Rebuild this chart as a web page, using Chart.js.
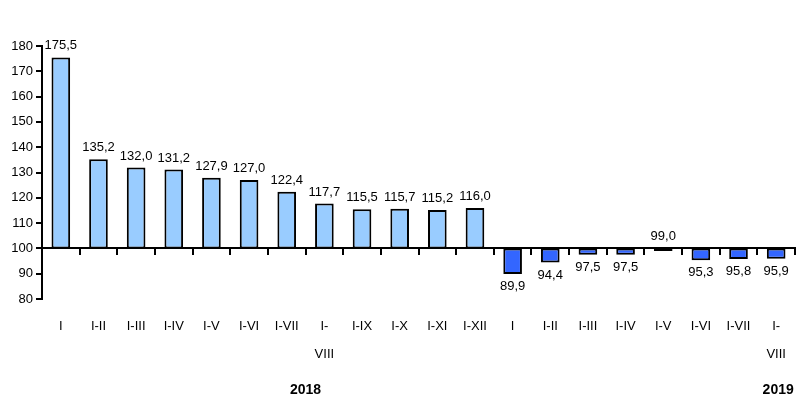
<!DOCTYPE html>
<html>
<head>
<meta charset="utf-8">
<script src="https://cdn.jsdelivr.net/npm/chart.js@4"></script>
<style>
  body { margin: 0; background: #fff; }
  #wrap { width: 807px; height: 420px; }
</style>
</head>
<body>
<div id="wrap"><canvas id="grafico" width="807" height="420"></canvas></div>
<script>
// periodos acumulados 2018 y 2019
const etiquetas = ['I', 'I-II', 'I-III', 'I-IV', 'I-V', 'I-VI', 'I-VII', ['I-', 'VIII'], 'I-IX', 'I-X', 'I-XI', 'I-XII',
                   'I', 'I-II', 'I-III', 'I-IV', 'I-V', 'I-VI', 'I-VII', ['I-', 'VIII']];
const valores2018 = [175.5, 135.2, 132.0, 131.2, 127.9, 127.0, 122.4, 117.7, 115.5, 115.7, 115.2, 116.0];
const valores2019 = [89.9, 94.4, 97.5, 97.5, 99.0, 95.3, 95.8, 95.9];
const anios = ['2018', '2019'];
const base = 100;

const valores = valores2018.concat(valores2019);
const colores = valores.map((v, i) => i < valores2018.length ? '#99CCFF' : '#3366FF');

const fuente = "'Liberation Sans', Arial, sans-serif";

// etiquetas de valor y años
const textos = {
  id: 'textos',
  afterDatasetsDraw(chart) {
    const ctx = chart.ctx;
    const meta = chart.getDatasetMeta(0);
    const x = chart.scales.x;
    const y = chart.scales.y;
    ctx.save();
    ctx.fillStyle = '#000';
    ctx.font = '13px ' + fuente;
    ctx.textAlign = 'center';
    meta.data.forEach((bar, i) => {
      const v = valores[i];
      const txt = v.toFixed(1).replace('.', ',');
      const yEnd = y.getPixelForValue(v);
      if (v >= 99) {
        ctx.textBaseline = 'bottom';
        ctx.fillText(txt, bar.x, Math.min(yEnd, y.getPixelForValue(base)) - 5);
      } else {
        ctx.textBaseline = 'top';
        ctx.fillText(txt, bar.x, yEnd + 6);
      }
    });
    ctx.font = 'bold 14px ' + fuente;
    ctx.textBaseline = 'middle';
    const x2018 = (x.getPixelForValue(6) + x.getPixelForValue(7)) / 2;
    const x2019 = x.getPixelForValue(19);
    ctx.fillText(anios[0], x2018, 390);
    ctx.fillText(anios[1], x2019 + 2, 390);
    ctx.restore();
  }
};

const ctx = document.getElementById('grafico').getContext('2d');

const myBarChart = new Chart(ctx, {
  type: 'bar',
  data: {
    labels: etiquetas,
    datasets: [{
      data: valores.map(v => [base, v]),
      backgroundColor: colores,
      borderColor: '#000',
      borderWidth: 2,
      borderSkipped: false,
      barPercentage: 0.55,
      categoryPercentage: 0.9
    }]
  },
  options: {
    responsive: false,
    animation: false,
    layout: { padding: { top: 46, right: 12, bottom: 0, left: 0 } },
    plugins: {
      legend: { display: false },
      tooltip: { enabled: false }
    },
    scales: {
      x: {
        position: 'bottom',
        border: { display: false },
        grid: { display: false },
        ticks: {
          color: '#000',
          font: { family: fuente, size: 13, lineHeight: 2.15 },
          maxRotation: 0,
          autoSkip: false,
          padding: 5
        },
        afterFit(scale) { scale.height = 121; }
      },
      x2: {
        position: { y: base },
        type: 'category',
        labels: etiquetas,
        offset: true,
        border: { display: true, color: '#000', width: 2 },
        grid: { display: true, drawOnChartArea: false, offset: true, color: '#000', lineWidth: 2, tickLength: 6 },
        ticks: { display: false }
      },
      y: {
        min: 80,
        max: 180,
        border: { display: true, color: '#000', width: 2 },
        grid: { drawOnChartArea: false, color: '#000', lineWidth: 2, tickLength: 6 },
        ticks: {
          stepSize: 10,
          color: '#000',
          font: { family: fuente, size: 13 },
          padding: 3
        },
        afterFit(scale) { scale.width = 42; }
      }
    }
  },
  plugins: [textos]
});
</script>
</body>
</html>
